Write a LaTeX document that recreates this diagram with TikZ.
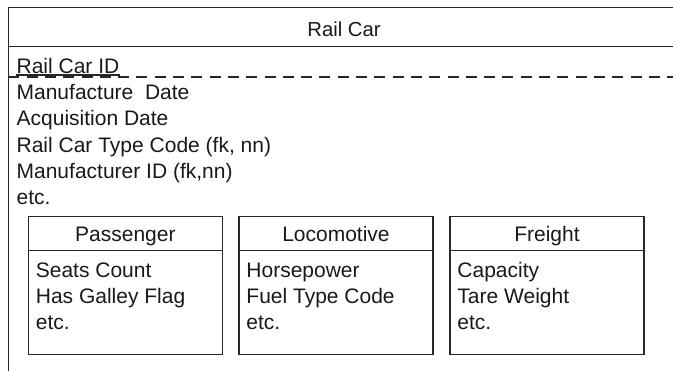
\documentclass[tikz,border=0pt]{standalone}
\usepackage{fontspec}
\setmainfont{Liberation Sans}
\begin{document}
\begin{tikzpicture}[x=1bp,y=-1bp, line width=1.3bp, color={black!85},
  lbl/.style={font=\fontsize{21bp}{25bp}\selectfont, inner sep=0, anchor=base west, text=black!90},
  ttl/.style={font=\fontsize{20.3bp}{24bp}\selectfont, inner sep=0, anchor=base, text=black!90},
  subttl/.style={ttl, font=\fontsize{21bp}{25bp}\selectfont},
  subbox/.style={draw, minimum width=194bp, minimum height=138.3bp, inner sep=0, anchor=north west},
  keyline/.style={line width=1.2bp, dash pattern=on 11bp off 7.3bp}]
\useasboundingbox (0,0) rectangle (673,370);
% outer entity (cropped on the right and bottom)
\coordinate (otr) at (674,7.3);
\coordinate (otl) at (8.3,7.3);
\coordinate (obl) at (8.3,371);
\draw (otr) -- (otl) -- (obl);
\coordinate (hl) at (8.3,46.7);
\coordinate (hr) at (674,46.7);
\draw (hl) -- (hr);
\node[ttl] (title) at (344,36) {Rail Car};
% attributes
\node[lbl] (id) at (16,73) {Rail Car ID};
\draw[line width=1.1bp] ([yshift=-2bp]id.base west) -- ([yshift=-2bp]id.base east);
\coordinate (kl) at (8.3,77);
\coordinate (kr) at (674,77);
\draw[keyline] (kl) -- (kr);
\node[lbl] (a1) at (16,99.6) {Manufacture\ \ Date};
\node[lbl] (a2) at (16,125.9) {Acquisition Date};
\node[lbl] (a3) at (16,152.2) {Rail Car Type Code (fk, nn)};
\node[lbl] (a4) at (16,178.5) {Manufacturer ID (fk,nn)};
\node[lbl] (a5) at (16,204.8) {etc.};
% subtypes
\foreach \nm/\x/\t/\fa/\fb in {pass/27.7/Passenger/Seats Count/Has Galley Flag,
                                loco/238.3/Locomotive/Horsepower/Fuel Type Code,
                                frei/449.3/Freight/Capacity/Tare Weight}{
  \node[subbox] (\nm) at (\x,215.7) {};
  \draw ([yshift=-35bp]\nm.north west) -- ([yshift=-35bp]\nm.north east);
  \node[subttl] (\nm-t) at ([yshift=-26bp]\nm.north) {\t};
  \node[lbl] (\nm-1) at ([xshift=7.5bp,yshift=-61.6bp]\nm.north west) {\fa};
  \node[lbl] (\nm-2) at ([xshift=7.5bp,yshift=-87.6bp]\nm.north west) {\fb};
  \node[lbl] (\nm-3) at ([xshift=7.5bp,yshift=-113.6bp]\nm.north west) {etc.};
}
\end{tikzpicture}
\end{document}
